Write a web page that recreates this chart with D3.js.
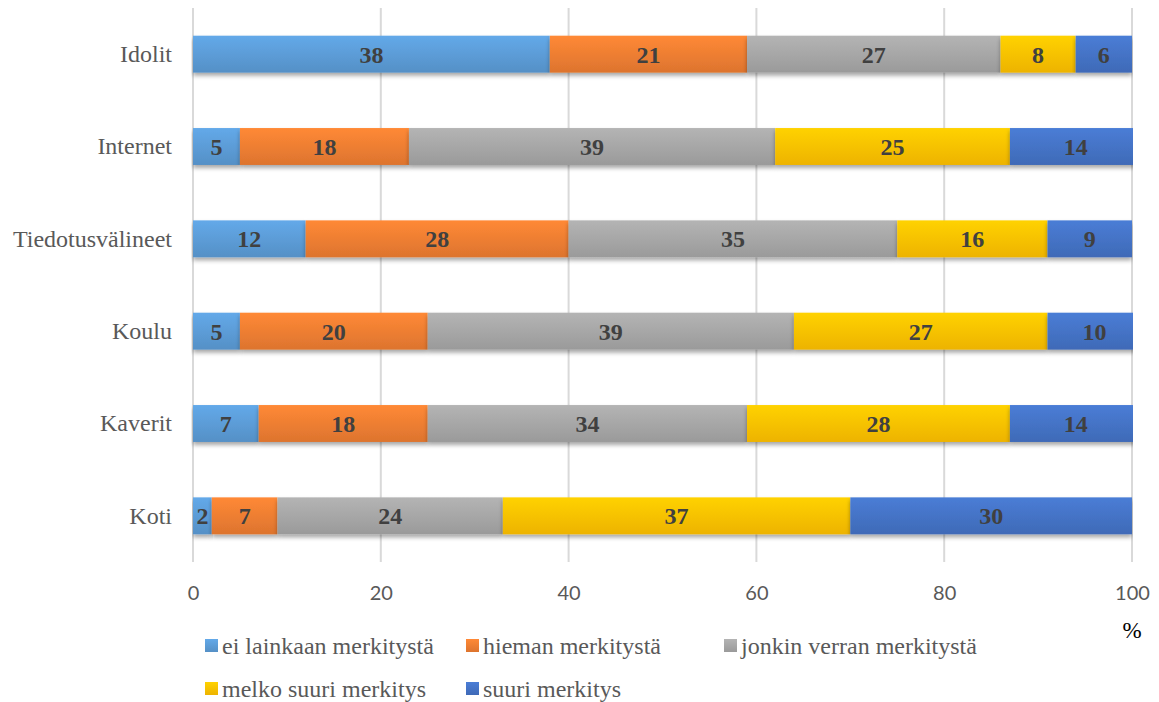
<!DOCTYPE html>
<html>
<head>
<meta charset="utf-8">
<script src="https://cdn.jsdelivr.net/npm/d3@7"></script>
<style>
  html, body { margin: 0; padding: 0; background: #fff; }
  svg { display: block; }
</style>
</head>
<body>
<svg id="chart" width="1159" height="702"></svg>
<script>
// Sources of influence, share of answers (%) per level of importance
const categories = ["Idolit", "Internet", "Tiedotusvälineet", "Koulu", "Kaverit", "Koti"];
const seriesNames = ["ei lainkaan merkitystä", "hieman merkitystä", "jonkin verran merkitystä", "melko suuri merkitys", "suuri merkitys"];
const eiLainkaan     = [38, 5, 12, 5, 7, 2];
const hieman         = [21, 18, 28, 20, 18, 7];
const jonkinVerran   = [27, 39, 35, 39, 34, 24];
const melkoSuuri     = [8, 25, 16, 27, 28, 37];
const suuri          = [6, 14, 9, 10, 14, 30];
const xTicks = [0, 20, 40, 60, 80, 100];

const colors = ["#5B9BD5", "#ED7D31", "#A5A5A5", "#FFC000", "#4472C4"];
const seriesValues = [eiLainkaan, hieman, jonkinVerran, melkoSuuri, suuri];

const SERIF = "'Liberation Serif', 'Times New Roman', serif";

const svg = d3.select("#chart");
const margin = { left: 193, right: 27, top: 8, bottom: 140 };
const W = 1159, H = 702;

const x = d3.scaleLinear().domain([0, 100]).range([margin.left, W - margin.right]);
const y = d3.scaleBand().domain(categories).range([margin.top, H - margin.bottom]).paddingInner(0.6).paddingOuter(0.3);

// Gradients, a soft shadow and the plot-area clip for the bars
const defs = svg.append("defs");
colors.forEach((c, i) => {
  const g = defs.append("linearGradient").attr("id", "grad" + i)
    .attr("x1", 0).attr("y1", 0).attr("x2", 0).attr("y2", 1);
  const base = d3.color(c);
  g.append("stop").attr("offset", "0%").attr("stop-color", base.brighter(0.25));
  g.append("stop").attr("offset", "100%").attr("stop-color", base.darker(0.2));
});
const f = defs.append("filter").attr("id", "shadow").attr("x", "-5%").attr("y", "-20%").attr("width", "110%").attr("height", "160%");
f.append("feDropShadow").attr("dx", 0).attr("dy", 3).attr("stdDeviation", 2).attr("flood-color", "#000").attr("flood-opacity", 0.35);
defs.append("clipPath").attr("id", "plotClip").append("rect")
  .attr("x", margin.left - 2).attr("y", 0)
  .attr("width", x(100) - margin.left + 3).attr("height", H - margin.bottom + 10);

// Vertical gridlines
svg.append("g").selectAll("line").data(xTicks).join("line")
  .attr("x1", d => x(d)).attr("x2", d => x(d))
  .attr("y1", margin.top).attr("y2", H - margin.bottom)
  .attr("stroke", "#D9D9D9").attr("stroke-width", 2);

// Stack the data
const rows = categories.map((c, i) => {
  const r = { cat: c };
  seriesNames.forEach((s, j) => r[s] = seriesValues[j][i]);
  return r;
});
const stacked = d3.stack().keys(seriesNames)(rows);

const layers = svg.append("g").attr("clip-path", "url(#plotClip)")
  .selectAll("g").data(stacked).join("g")
  .attr("fill", (d, i) => `url(#grad${i})`);

layers.selectAll("rect").data(d => d).join("rect")
  .attr("x", d => x(d[0]))
  .attr("width", d => x(d[1]) - x(d[0]))
  .attr("y", d => y(d.data.cat))
  .attr("height", y.bandwidth())
  .attr("filter", "url(#shadow)");

// Value labels
const labels = svg.append("g");
stacked.forEach(layer => {
  layer.forEach(d => {
    labels.append("text")
      .attr("x", (x(d[0]) + x(d[1])) / 2)
      .attr("y", y(d.data.cat) + y.bandwidth() / 2)
      .attr("dy", "0.35em")
      .attr("text-anchor", "middle")
      .attr("font-family", SERIF)
      .attr("font-weight", "bold")
      .attr("font-size", 24)
      .attr("fill", "#404040")
      .text(d[1] - d[0]);
  });
});

// Category axis
const yAxis = svg.append("g").attr("transform", `translate(${margin.left},0)`)
  .call(d3.axisLeft(y).tickSize(0).tickPadding(21));
yAxis.select(".domain").remove();
yAxis.selectAll("text")
  .attr("font-family", SERIF)
  .attr("font-size", 24).attr("fill", "#595959");

// Value axis
const xAxis = svg.append("g").attr("transform", `translate(0,${H - margin.bottom})`)
  .call(d3.axisBottom(x).tickValues(xTicks).tickSize(0).tickPadding(24));
xAxis.select(".domain").remove();
xAxis.selectAll("text")
  .attr("font-family", "Lato, 'Open Sans', sans-serif")
  .attr("font-size", 20).attr("fill", "#595959");

// Axis unit
svg.append("text").attr("x", x(100)).attr("y", 638).attr("text-anchor", "middle")
  .attr("font-family", SERIF)
  .attr("font-size", 23).attr("fill", "#000").text("%");

// Legend
const legendPos = [[205, 639], [466, 639], [724, 639], [205, 682], [466, 682]];
const legend = svg.append("g").selectAll("g").data(seriesNames).join("g")
  .attr("transform", (d, i) => `translate(${legendPos[i][0]},${legendPos[i][1]})`);
legend.append("rect").attr("width", 13).attr("height", 13)
  .attr("fill", (d, i) => `url(#grad${i})`);
legend.append("text").attr("x", 17).attr("y", 6.5).attr("dy", "0.35em")
  .attr("font-family", SERIF)
  .attr("font-size", 24).attr("fill", "#595959")
  .text(d => d);
</script>
</body>
</html>
